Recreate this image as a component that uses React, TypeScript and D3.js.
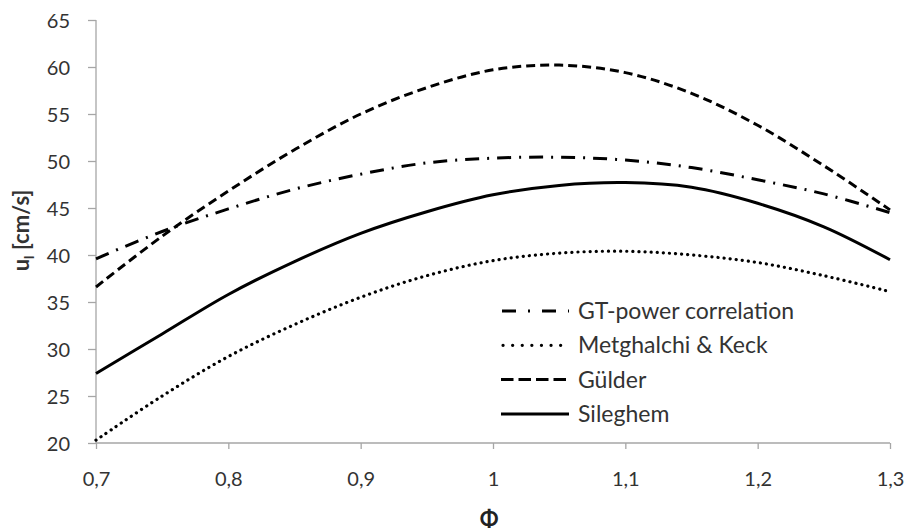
import React, { useEffect, useRef } from 'react';
import * as d3 from 'd3';

// equivalence ratio samples
const phi = [0.7, 0.75, 0.8, 0.85, 0.9, 0.95, 1.0, 1.05, 1.1, 1.15, 1.2, 1.25, 1.3];

// laminar burning velocity [cm/s]
const gtPower = [39.6, 42.5, 44.9, 47.0, 48.6, 49.8, 50.3, 50.4, 50.1, 49.3, 48.0, 46.5, 44.5];
const metghalchi = [20.3, 25.0, 29.2, 32.6, 35.5, 37.8, 39.4, 40.2, 40.4, 40.0, 39.2, 37.8, 36.1];
const gulder = [36.6, 42.0, 46.8, 51.2, 55.0, 57.8, 59.7, 60.2, 59.4, 57.2, 53.8, 49.5, 44.8];
const sileghem = [27.4, 31.6, 35.8, 39.3, 42.3, 44.6, 46.4, 47.4, 47.7, 47.2, 45.5, 43.0, 39.5];

const xTicks = [0.7, 0.8, 0.9, 1.0, 1.1, 1.2, 1.3];
const yTicks = [20, 25, 30, 35, 40, 45, 50, 55, 60, 65];

const seriesNames = ['GT-power correlation', 'Metghalchi & Keck', 'Gülder', 'Sileghem'];
const seriesValues = [gtPower, metghalchi, gulder, sileghem];

const W = 904;
const H = 531;
const FONT = 'Lato, "Open Sans", sans-serif';

const App = () => {
  const svgRef = useRef<SVGSVGElement | null>(null);

  useEffect(() => {
    const svg = d3.select(svgRef.current);
    svg.selectAll('*').remove();

    const margin = { top: 20, right: 14, bottom: 88, left: 96 };
    const innerW = W - margin.left - margin.right;
    const innerH = H - margin.top - margin.bottom;

    const x = d3.scaleLinear().domain([0.7, 1.3]).range([0, innerW]);
    const y = d3.scaleLinear().domain([20, 65]).range([innerH, 0]);

    const g = svg.append('g').attr('transform', `translate(${margin.left},${margin.top})`);

    // axes
    const xAxis = d3.axisBottom(x)
      .tickValues(xTicks)
      .tickSize(6)
      .tickFormat(d => String(+d).replace('.', ','));
    const yAxis = d3.axisLeft(y).tickValues(yTicks).tickSize(8).tickFormat(d => String(d));

    const gx = g.append('g').attr('transform', `translate(0,${innerH})`).call(xAxis);
    const gy = g.append('g').call(yAxis);

    [gx, gy].forEach(ax => {
      ax.select('.domain').attr('stroke', '#a6a6a6').attr('stroke-width', 1.3);
      ax.selectAll('.tick line').attr('stroke', '#a6a6a6').attr('stroke-width', 1.3);
      ax.selectAll('.tick text')
        .attr('fill', '#333')
        .style('font-family', FONT)
        .style('font-size', '20px');
    });
    gx.select('.domain').attr('d', `M0,0H${innerW}`);
    gy.select('.domain').attr('d', `M0,${innerH}V0`);
    gx.selectAll('.tick text').attr('y', 36).attr('dy', '0.35em');
    gy.selectAll('.tick text').attr('x', -26).attr('dy', '0.35em');

    // curves
    const line = d3.line<[number, number]>()
      .x(d => x(d[0]))
      .y(d => y(d[1]))
      .curve(d3.curveCatmullRom.alpha(0.5));

    const styles = [
      { dash: '14,8,2,8', cap: 'butt' },
      { dash: '0.1,6', cap: 'round' },
      { dash: '9,5', cap: 'butt' },
      { dash: null, cap: 'butt' },
    ];

    seriesValues.forEach((vals, i) => {
      const pts = phi.map((p, j) => [p, vals[j]] as [number, number]);
      const path = g.append('path')
        .attr('d', line(pts))
        .attr('fill', 'none')
        .attr('stroke', '#000')
        .attr('stroke-width', i === 1 ? 3.2 : 3)
        .attr('stroke-linecap', styles[i].cap);
      if (styles[i].dash) path.attr('stroke-dasharray', styles[i].dash);
    });

    // legend
    const legend = svg.append('g').attr('transform', 'translate(501,311)');
    seriesNames.forEach((name, i) => {
      const row = legend.append('g').attr('transform', `translate(0,${i * 34.3})`);
      const ln = row.append('line')
        .attr('x1', 0).attr('x2', 68)
        .attr('stroke', '#000')
        .attr('stroke-width', i === 1 ? 3.2 : 3)
        .attr('stroke-linecap', styles[i].cap);
      if (i === 0) ln.attr('stroke-dasharray', '14,12,2,12').attr('x1', 1);
      if (i === 1) ln.attr('stroke-dasharray', '0.1,9.5').attr('x1', 2);
      if (i === 2) ln.attr('stroke-dasharray', '12.5,5');
      row.append('text')
        .attr('x', 77)
        .attr('y', 0)
        .attr('dy', '0.35em')
        .attr('fill', '#333')
        .style('font-family', FONT)
        .style('font-size', '23px')
        .text(name);
    });

    // axis titles
    const yl = svg.append('text')
      .attr('transform', `translate(29,${margin.top + innerH / 2 - 1}) rotate(-90)`)
      .attr('text-anchor', 'middle')
      .attr('fill', '#333')
      .style('font-family', FONT)
      .style('font-size', '22px')
      .style('font-weight', 'bold');
    yl.append('tspan').text('u');
    yl.append('tspan').attr('dy', 5).style('font-size', '14px').text('l');
    yl.append('tspan').attr('dy', -5).text(' [cm/s]');

    svg.append('text')
      .attr('x', margin.left + innerW / 2 - 4)
      .attr('y', 527)
      .attr('text-anchor', 'middle')
      .attr('fill', '#222')
      .style('font-family', FONT)
      .style('font-size', '22px')
      .style('font-weight', 'bold')
      .text('Φ');
  }, []);

  return (
    <div style={{ position: 'absolute', left: 0, top: 0 }}>
      <svg ref={svgRef} width={W} height={H} style={{ display: 'block', background: '#fff' }} />
    </div>
  );
};

export default App;
